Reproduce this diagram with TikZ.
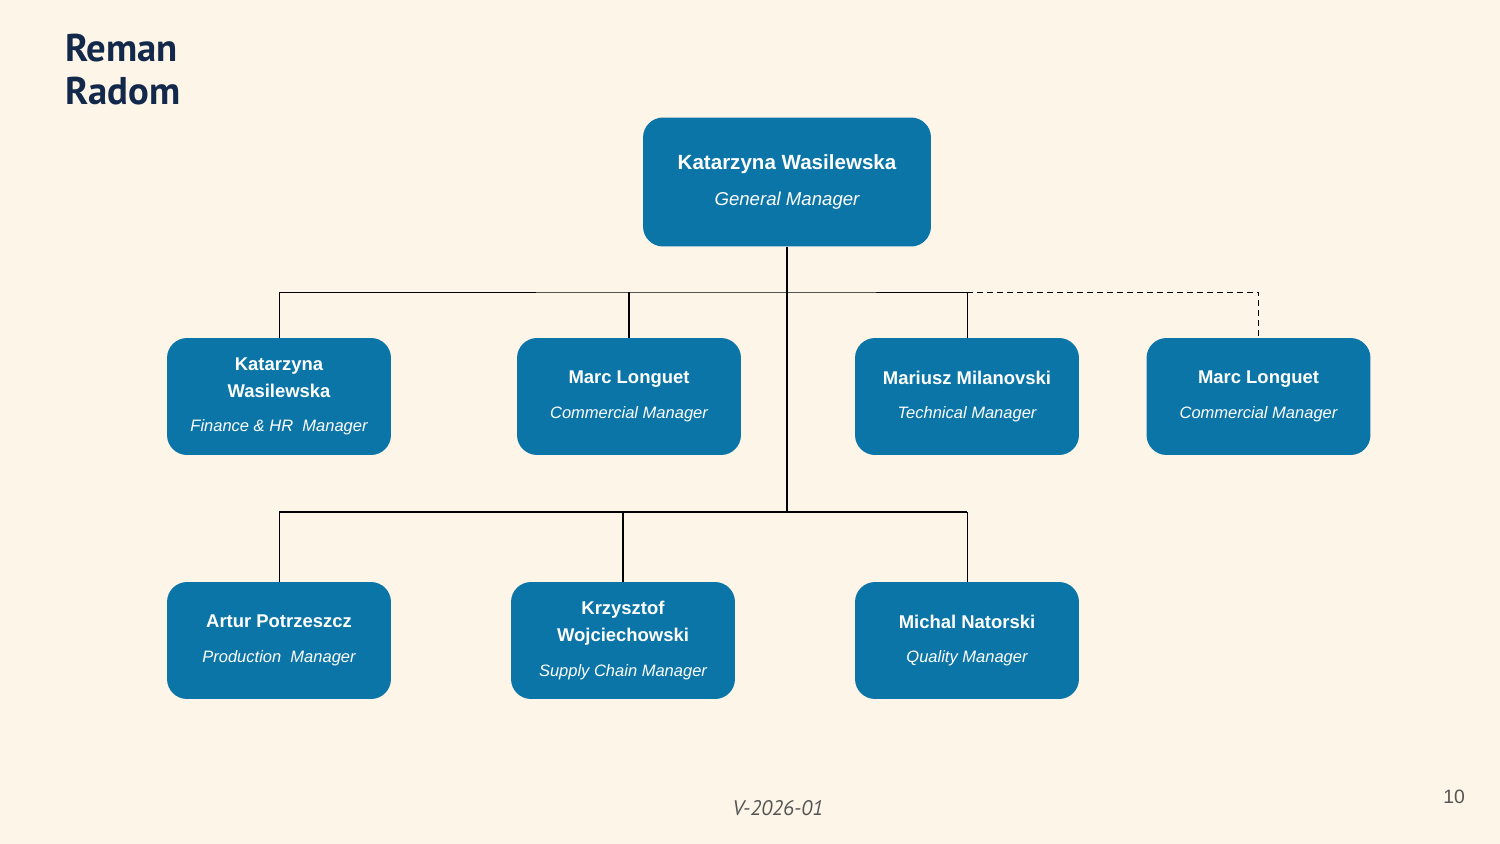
\documentclass[tikz,border=0pt]{standalone}
\usepackage{fontspec}
\setmainfont{Liberation Sans}
\newfontfamily\titlefont{PT Sans}
\usepackage{tikz}

\definecolor{paper}{HTML}{FCF5E8}
\definecolor{boxblue}{HTML}{0B75A8}
\definecolor{navy}{HTML}{13294B}
\definecolor{footgray}{HTML}{555555}

\tikzset{
	staff/.style={fill=boxblue, rounded corners=0.4cm, minimum width=4.48cm, minimum height=2.34cm,
		inner sep=0pt, text=white, align=center, font=\bfseries\fontsize{10.5}{15.3}\selectfont},
	chief/.style={staff, minimum width=5.76cm, minimum height=2.58cm, font=\bfseries\fontsize{11.7}{15.6}\selectfont},
	thinline/.style={line width=0.5pt},
	midline/.style={line width=0.85pt},
	thickline/.style={line width=1.15pt}
}
% name on top, role in italics below
\newcommand\who[2]{#1\\[4.5pt]{\mdseries\itshape\fontsize{9.4}{15.3}\selectfont #2}}

\begin{document}
\begin{tikzpicture}[x=0.02cm, y=-0.02cm]
	% page
	\fill [paper] (0,0) rectangle (1500,844);
	\useasboundingbox (0,0) rectangle (1500,844);
	
	% heading and footer
	\node[anchor=north west, inner sep=0pt, align=left, text=navy,
		font=\titlefont\bfseries\fontsize{22}{24.4}\selectfont] (title) at (65,34) {Reman\\Radom};
	\node[text=footgray, font=\titlefont\itshape\fontsize{12}{14}\selectfont] (version) at (778,808) {V-2026-01};
	\node[text=footgray, font=\fontsize{11}{13}\selectfont] (page) at (1454,797) {10};
	
	% boxes
	\node[chief] (gm) at (787,182) {Katarzyna Wasilewska\\[5.4pt]{\mdseries\itshape\fontsize{10.6}{15.6}\selectfont General Manager}};
	\foreach \id/\x/\name/\role in {fin/279/{Katarzyna\\Wasilewska}/{Finance \& HR~ Manager},
			com/629/{Marc Longuet}/{Commercial Manager},
			tech/967/{Mariusz Milanovski}/{Technical Manager},
			com2/1258.5/{Marc Longuet}/{Commercial Manager}} {
		\node[staff] (\id) at (\x,396.5) {\who{\name}{\role}};
	}
	\foreach \id/\x/\name/\role in {prod/279/{Artur Potrzeszcz}/{Production~ Manager},
			scm/623/{Krzysztof\\Wojciechowski}/{Supply Chain Manager},
			qm/967/{Michal Natorski}/{Quality Manager}} {
		\node[staff] (\id) at (\x,640.5) {\who{\name}{\role}};
	}
	
	% buses
	\coordinate (upbus) at (787,292);
	\coordinate (lowbus) at (787,512);
	\draw [thickline] (gm.south) -- (lowbus);
	\draw [thinline] (fin.north) |- (upbus) -| (tech.north);
	\draw [thickline] (com.north) -- (com.north |- upbus);
	\draw [thinline, dash pattern=on 0.12cm off 0.08cm] (tech.north |- upbus) -| (com2.north);
	\draw [midline] (prod.north |- lowbus) -- (qm.north |- lowbus);
	\draw [thinline] (prod.north) -- (prod.north |- lowbus);
	\draw [thickline] (scm.north) -- (scm.north |- lowbus);
	\draw [thinline] (qm.north) -- (qm.north |- lowbus);
\end{tikzpicture}
\end{document}
